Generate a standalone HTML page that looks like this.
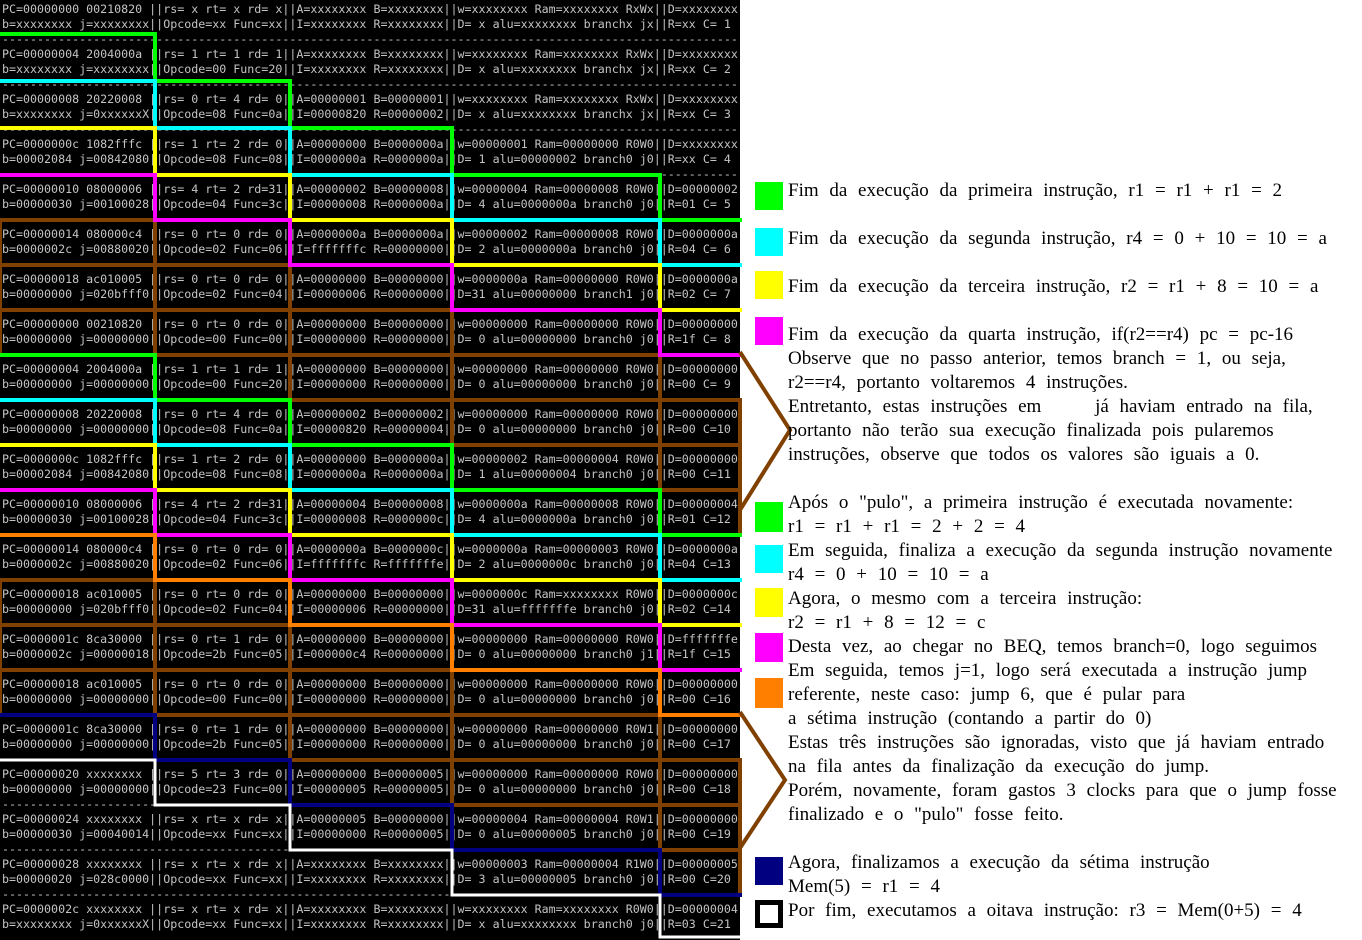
<!DOCTYPE html>
<html><head><meta charset="utf-8">
<style>
html,body{margin:0;padding:0;}
body{width:1362px;height:940px;overflow:hidden;background:#fff;position:relative;}
#term{position:absolute;left:0;top:0;width:740px;height:940px;background:#000;overflow:hidden;}
#term pre{position:absolute;left:2px;top:2px;margin:0;font-family:"DejaVu Sans Mono","Liberation Mono",monospace;font-size:11.65px;line-height:15px;color:#c4c4c4;white-space:pre;}
svg{position:absolute;left:0;top:0;}
#txt{position:absolute;left:788px;top:179px;font-family:"Liberation Serif","DejaVu Sans",serif;font-size:19px;line-height:24px;color:#000;white-space:nowrap;word-spacing:6px;}
.sq{position:absolute;left:755px;width:28px;height:28px;}
</style></head><body>
<div id="term"><pre>PC=00000000 00210820 ||rs= x rt= x rd= x||A=xxxxxxxx B=xxxxxxxx||w=xxxxxxxx Ram=xxxxxxxx RxWx||D=xxxxxxxx
b=xxxxxxxx j=xxxxxxxx||Opcode=xx Func=xx||I=xxxxxxxx R=xxxxxxxx||D= x alu=xxxxxxxx branchx jx||R=xx C= 1
---------------------------------------------------------------------------------------------------------
PC=00000004 2004000a ||rs= 1 rt= 1 rd= 1||A=xxxxxxxx B=xxxxxxxx||w=xxxxxxxx Ram=xxxxxxxx RxWx||D=xxxxxxxx
b=xxxxxxxx j=xxxxxxxx||Opcode=00 Func=20||I=xxxxxxxx R=xxxxxxxx||D= x alu=xxxxxxxx branchx jx||R=xx C= 2
---------------------------------------------------------------------------------------------------------
PC=00000008 20220008 ||rs= 0 rt= 4 rd= 0||A=00000001 B=00000001||w=xxxxxxxx Ram=xxxxxxxx RxWx||D=xxxxxxxx
b=xxxxxxxx j=0xxxxxxX||Opcode=08 Func=0a||I=00000820 R=00000002||D= x alu=xxxxxxxx branchx jx||R=xx C= 3
---------------------------------------------------------------------------------------------------------
PC=0000000c 1082fffc ||rs= 1 rt= 2 rd= 0||A=00000000 B=0000000a||w=00000001 Ram=00000000 R0W0||D=xxxxxxxx
b=00002084 j=00842080||Opcode=08 Func=08||I=0000000a R=0000000a||D= 1 alu=00000002 branch0 j0||R=xx C= 4
---------------------------------------------------------------------------------------------------------
PC=00000010 08000006 ||rs= 4 rt= 2 rd=31||A=00000002 B=00000008||w=00000004 Ram=00000008 R0W0||D=00000002
b=00000030 j=00100028||Opcode=04 Func=3c||I=00000008 R=0000000a||D= 4 alu=0000000a branch0 j0||R=01 C= 5
---------------------------------------------------------------------------------------------------------
PC=00000014 080000c4 ||rs= 0 rt= 0 rd= 0||A=0000000a B=0000000a||w=00000002 Ram=00000008 R0W0||D=0000000a
b=0000002c j=00880020||Opcode=02 Func=06||I=fffffffc R=00000000||D= 2 alu=0000000a branch0 j0||R=04 C= 6
---------------------------------------------------------------------------------------------------------
PC=00000018 ac010005 ||rs= 0 rt= 0 rd= 0||A=00000000 B=00000000||w=0000000a Ram=00000000 R0W0||D=0000000a
b=00000000 j=020bfff0||Opcode=02 Func=04||I=00000006 R=00000000||D=31 alu=00000000 branch1 j0||R=02 C= 7
---------------------------------------------------------------------------------------------------------
PC=00000000 00210820 ||rs= 0 rt= 0 rd= 0||A=00000000 B=00000000||w=00000000 Ram=00000000 R0W0||D=00000000
b=00000000 j=00000000||Opcode=00 Func=00||I=00000000 R=00000000||D= 0 alu=00000000 branch0 j0||R=1f C= 8
---------------------------------------------------------------------------------------------------------
PC=00000004 2004000a ||rs= 1 rt= 1 rd= 1||A=00000000 B=00000000||w=00000000 Ram=00000000 R0W0||D=00000000
b=00000000 j=00000000||Opcode=00 Func=20||I=00000000 R=00000000||D= 0 alu=00000000 branch0 j0||R=00 C= 9
---------------------------------------------------------------------------------------------------------
PC=00000008 20220008 ||rs= 0 rt= 4 rd= 0||A=00000002 B=00000002||w=00000000 Ram=00000000 R0W0||D=00000000
b=00000000 j=00000000||Opcode=08 Func=0a||I=00000820 R=00000004||D= 0 alu=00000000 branch0 j0||R=00 C=10
---------------------------------------------------------------------------------------------------------
PC=0000000c 1082fffc ||rs= 1 rt= 2 rd= 0||A=00000000 B=0000000a||w=00000002 Ram=00000004 R0W0||D=00000000
b=00002084 j=00842080||Opcode=08 Func=08||I=0000000a R=0000000a||D= 1 alu=00000004 branch0 j0||R=00 C=11
---------------------------------------------------------------------------------------------------------
PC=00000010 08000006 ||rs= 4 rt= 2 rd=31||A=00000004 B=00000008||w=0000000a Ram=00000008 R0W0||D=00000004
b=00000030 j=00100028||Opcode=04 Func=3c||I=00000008 R=0000000c||D= 4 alu=0000000a branch0 j0||R=01 C=12
---------------------------------------------------------------------------------------------------------
PC=00000014 080000c4 ||rs= 0 rt= 0 rd= 0||A=0000000a B=0000000c||w=0000000a Ram=00000003 R0W0||D=0000000a
b=0000002c j=00880020||Opcode=02 Func=06||I=fffffffc R=fffffffe||D= 2 alu=0000000c branch0 j0||R=04 C=13
---------------------------------------------------------------------------------------------------------
PC=00000018 ac010005 ||rs= 0 rt= 0 rd= 0||A=00000000 B=00000000||w=0000000c Ram=xxxxxxxx R0W0||D=0000000c
b=00000000 j=020bfff0||Opcode=02 Func=04||I=00000006 R=00000000||D=31 alu=fffffffe branch0 j0||R=02 C=14
---------------------------------------------------------------------------------------------------------
PC=0000001c 8ca30000 ||rs= 0 rt= 1 rd= 0||A=00000000 B=00000000||w=00000000 Ram=00000000 R0W0||D=fffffffe
b=0000002c j=00000018||Opcode=2b Func=05||I=000000c4 R=00000000||D= 0 alu=00000000 branch0 j1||R=1f C=15
---------------------------------------------------------------------------------------------------------
PC=00000018 ac010005 ||rs= 0 rt= 0 rd= 0||A=00000000 B=00000000||w=00000000 Ram=00000000 R0W0||D=00000000
b=00000000 j=00000000||Opcode=00 Func=00||I=00000000 R=00000000||D= 0 alu=00000000 branch0 j0||R=00 C=16
---------------------------------------------------------------------------------------------------------
PC=0000001c 8ca30000 ||rs= 0 rt= 1 rd= 0||A=00000000 B=00000000||w=00000000 Ram=00000000 R0W1||D=00000000
b=00000000 j=00000000||Opcode=2b Func=05||I=00000000 R=00000000||D= 0 alu=00000000 branch0 j0||R=00 C=17
---------------------------------------------------------------------------------------------------------
PC=00000020 xxxxxxxx ||rs= 5 rt= 3 rd= 0||A=00000000 B=00000005||w=00000000 Ram=00000000 R0W0||D=00000000
b=00000000 j=00000000||Opcode=23 Func=00||I=00000005 R=00000005||D= 0 alu=00000000 branch0 j0||R=00 C=18
---------------------------------------------------------------------------------------------------------
PC=00000024 xxxxxxxx ||rs= x rt= x rd= x||A=00000005 B=00000000||w=00000004 Ram=00000004 R0W1||D=00000000
b=00000030 j=00040014||Opcode=xx Func=xx||I=00000000 R=00000005||D= 0 alu=00000005 branch0 j0||R=00 C=19
---------------------------------------------------------------------------------------------------------
PC=00000028 xxxxxxxx ||rs= x rt= x rd= x||A=xxxxxxxx B=xxxxxxxx||w=00000003 Ram=00000004 R1W0||D=00000005
b=00000020 j=028c0000||Opcode=xx Func=xx||I=xxxxxxxx R=xxxxxxxx||D= 3 alu=00000005 branch0 j0||R=00 C=20
---------------------------------------------------------------------------------------------------------
PC=0000002c xxxxxxxx ||rs= x rt= x rd= x||A=xxxxxxxx B=xxxxxxxx||w=xxxxxxxx Ram=xxxxxxxx R0W0||D=00000004
b=xxxxxxxx j=0xxxxxxX||Opcode=xx Func=xx||I=xxxxxxxx R=xxxxxxxx||D= x alu=xxxxxxxx branch0 j0||R=03 C=21</pre></div>

<svg width="1362" height="940" viewBox="0 0 1362 940">
<g fill="none" stroke="#804000" stroke-width="4">
<rect x="0" y="220" width="155" height="45"/><rect x="155" y="265" width="135" height="45"/><rect x="290" y="310" width="162" height="45"/><rect x="452" y="355" width="208" height="45"/><rect x="660" y="400" width="80" height="45"/>
<rect x="0" y="265" width="155" height="45"/><rect x="155" y="310" width="135" height="45"/><rect x="290" y="355" width="162" height="45"/><rect x="452" y="400" width="208" height="45"/><rect x="660" y="445" width="80" height="45"/>
<rect x="0" y="310" width="155" height="45"/><rect x="155" y="355" width="135" height="45"/><rect x="290" y="400" width="162" height="45"/><rect x="452" y="445" width="208" height="45"/><rect x="660" y="490" width="80" height="45"/>
<rect x="0" y="580" width="155" height="45"/><rect x="155" y="625" width="135" height="45"/><rect x="290" y="670" width="162" height="45"/><rect x="452" y="715" width="208" height="45"/><rect x="660" y="760" width="80" height="45"/>
<rect x="0" y="625" width="155" height="45"/><rect x="155" y="670" width="135" height="45"/><rect x="290" y="715" width="162" height="45"/><rect x="452" y="760" width="208" height="45"/><rect x="660" y="805" width="80" height="45"/>
<rect x="0" y="670" width="155" height="45"/><rect x="155" y="715" width="135" height="45"/><rect x="290" y="760" width="162" height="45"/><rect x="452" y="805" width="208" height="45"/><rect x="660" y="850" width="80" height="45"/>
</g>
<g fill="none" stroke-width="4">
<path stroke="#00ff00" d="M0 34 H155 V81 H290 V128 H452 V175 H660 V220 H742"/>
<path stroke="#00ffff" d="M0 81 H155 V128 H290 V175 H452 V220 H660 V265 H742"/>
<path stroke="#ffff00" d="M0 128 H155 V175 H290 V220 H452 V265 H660 V310 H742"/>
<path stroke="#ff00ff" d="M0 175 H155 V220 H290 V265 H452 V310 H660 V355 H742"/>
<path stroke="#00ff00" d="M0 355 H155 V400 H290 V445 H452 V490 H660 V535 H742"/>
<path stroke="#00ffff" d="M0 400 H155 V445 H290 V490 H452 V535 H660 V580 H742"/>
<path stroke="#ffff00" d="M0 445 H155 V490 H290 V535 H452 V580 H660 V625 H742"/>
<path stroke="#ff00ff" d="M0 490 H155 V535 H290 V580 H452 V625 H660 V670 H742"/>
<path stroke="#ff8000" d="M0 535 H155 V580 H290 V625 H452 V670 H660 V715 H742"/>
<path stroke="#000080" d="M0 715 H155 V760 H290 V805 H452 V850 H660 V895 H742"/>
<path stroke="#ffffff" stroke-width="3" d="M0 760 H155 V805 H290 V850 H452 V895 H660 V937 H742"/>
</g>
<g fill="none" stroke="#804000" stroke-width="4">
<path d="M740 352 L790 430 L740 510"/>
<path d="M740 712 L785 780 L740 848"/>
</g>
</svg>

<div class="sq" style="top:182px;background:#00ff00"></div>
<div class="sq" style="top:228px;background:#00ffff"></div>
<div class="sq" style="top:271px;background:#ffff00"></div>
<div class="sq" style="top:317px;background:#ff00ff"></div>
<div class="sq" style="top:502px;background:#00ff00;height:30px"></div>
<div class="sq" style="top:545px;background:#00ffff"></div>
<div class="sq" style="top:588px;background:#ffff00;height:29px"></div>
<div class="sq" style="top:633px;background:#ff00ff;height:29px"></div>
<div class="sq" style="top:678px;background:#ff8000;height:30px"></div>
<div class="sq" style="top:857px;background:#000080"></div>
<div class="sq" style="top:900px;box-sizing:border-box;border:5px solid #000;background:#fff"></div>

<div id="txt">Fim da execução da primeira instrução, r1 = r1 + r1 = 2<br>
&nbsp;<br>
Fim da execução da segunda instrução, r4 = 0 + 10 = 10 = a<br>
&nbsp;<br>
Fim da execução da terceira instrução, r2 = r1 + 8 = 10 = a<br>
&nbsp;<br>
Fim da execução da quarta instrução, if(r2==r4) pc = pc-16<br>
Observe que no passo anterior, temos branch = 1, ou seja,<br>
r2==r4, portanto voltaremos 4 instruções.<br>
Entretanto, estas instruções em &nbsp;&nbsp;&nbsp; já haviam entrado na fila,<br>
portanto não terão sua execução finalizada pois pularemos<br>
instruções, observe que todos os valores são iguais a 0.<br>
&nbsp;<br>
Após o "pulo", a primeira instrução é executada novamente:<br>
r1 = r1 + r1 = 2 + 2 = 4<br>
Em seguida, finaliza a execução da segunda instrução novamente<br>
r4 = 0 + 10 = 10 = a<br>
Agora, o mesmo com a terceira instrução:<br>
r2 = r1 + 8 = 12 = c<br>
Desta vez, ao chegar no BEQ, temos branch=0, logo seguimos<br>
Em seguida, temos j=1, logo será executada a instrução jump<br>
referente, neste caso: jump 6, que é pular para<br>
a sétima instrução (contando a partir do 0)<br>
Estas três instruções são ignoradas, visto que já haviam entrado<br>
na fila antes da finalização da execução do jump.<br>
Porém, novamente, foram gastos 3 clocks para que o jump fosse<br>
finalizado e o "pulo" fosse feito.<br>
&nbsp;<br>
Agora, finalizamos a execução da sétima instrução<br>
Mem(5) = r1 = 4<br>
Por fim, executamos a oitava instrução: r3 = Mem(0+5) = 4</div>
</body></html>
